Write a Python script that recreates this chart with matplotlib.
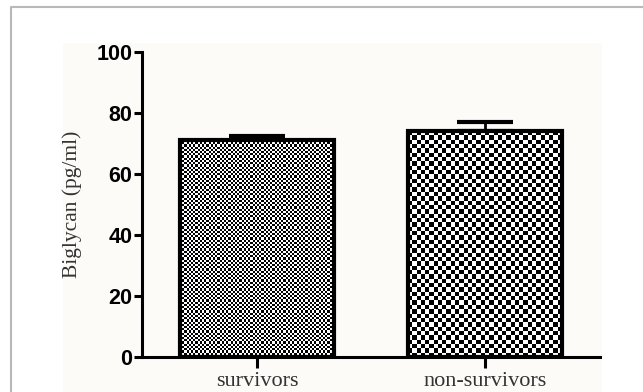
import numpy as np
import matplotlib
matplotlib.use("Agg")
import matplotlib.pyplot as plt
from matplotlib.patches import Rectangle
from matplotlib.lines import Line2D

groups = ["survivors", "non-survivors"]
means = [71.0, 74.0]
errors = [1.5, 3.0]
yticks = [0, 20, 40, 60, 80, 100]
# checker cell size in pixels for each bar
cell_px = [2.2, 4.3]

fig = plt.figure(figsize=(6.43, 3.92), dpi=100)

# faint off-white image area and grey frame of the original
fig.patches.append(Rectangle((63 / 643, 0), (602 - 63) / 643, 1 - 43 / 392,
                             transform=fig.transFigure, facecolor="#fcfbf8",
                             edgecolor="none", zorder=-2))
fig.lines.append(Line2D([11 / 643, 11 / 643, 1], [0, 1 - 7 / 392, 1 - 7 / 392],
                        transform=fig.transFigure, color="#b8b8b8", lw=1.5,
                        zorder=-1))

ax = fig.add_axes([142 / 643, 35 / 392, 458 / 643, 305 / 392])
ax.patch.set_alpha(0)

x = np.arange(len(groups))
bars = ax.bar(x, means, width=0.675, facecolor="none", edgecolor="black",
              linewidth=3.0, zorder=3)
ax.errorbar(x, means, yerr=[np.zeros(len(errors)), errors], fmt="none",
            ecolor="black", elinewidth=2.0, capsize=20, capthick=3.0, zorder=2)

ax.set_xlim(-0.504, 1.504)
ax.set_ylim(0, 100)

fig.canvas.draw()
for bar, cp in zip(bars, cell_px):
    bb = bar.get_window_extent()
    nx = max(2, int(round(bb.width / cp)))
    ny = max(2, int(round(bb.height / cp)))
    checker = (np.add.outer(np.arange(ny), np.arange(nx)) % 2).astype(float)
    x0, y0 = bar.get_x(), bar.get_y()
    im = ax.imshow(checker, cmap="gray", vmin=0, vmax=1, interpolation="nearest",
                   extent=[x0, x0 + bar.get_width(), y0, y0 + bar.get_height()],
                   aspect="auto", zorder=2.5)
    im.set_clip_path(bar)
ax.set_xlim(-0.504, 1.504)
ax.set_ylim(0, 100)

for side in ["top", "right"]:
    ax.spines[side].set_visible(False)
ax.spines["left"].set_linewidth(2.2)
ax.spines["bottom"].set_linewidth(2.2)

ax.set_yticks(yticks)
ax.set_yticklabels([str(t) for t in yticks], fontfamily="Liberation Sans",
                   fontweight="bold", fontsize=15.5)
ax.tick_params(axis="y", direction="out", length=6, width=2.2, pad=1)
ax.set_xticks(x)
ax.set_xticklabels(groups, fontfamily="Liberation Serif", fontsize=16,
                   color="#333333")
ax.tick_params(axis="x", direction="out", length=8, width=2.2, pad=3)

ax.set_ylabel("Biglycan (pg/ml)", fontfamily="Liberation Serif", fontsize=15.5,
              color="#333333", labelpad=10)

fig.savefig("out.png", dpi=100)
